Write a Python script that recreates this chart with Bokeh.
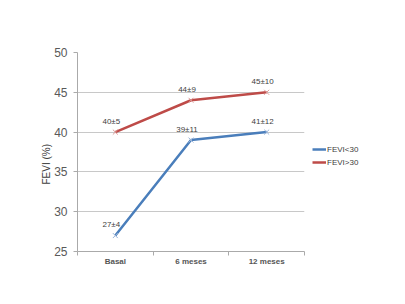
from bokeh.plotting import figure
from bokeh.models import ColumnDataSource, FixedTicker, Legend, LegendItem, Title
from bokeh.core.properties import value
from bokeh.embed import file_html
from bokeh.resources import INLINE

categories = ["Basal", "6 meses", "12 meses"]
fevi_lt30 = [27, 39, 40]
fevi_gt30 = [40, 44, 45]
labels_lt30 = ["27±4", "39±11", "41±12"]
labels_gt30 = ["40±5", "44±9", "45±10"]
y_ticks = [25, 30, 35, 40, 45, 50]

xs = [i + 0.5 for i in range(len(categories))]

p = figure(frame_width=227, frame_height=199, output_backend="svg", toolbar_location=None,
           x_range=(0, 3), y_range=(25, 50),
           min_border_left=77, min_border_right=30, min_border_top=52, min_border_bottom=45)
p.outline_line_color = None
p.background_fill_color = "white"
p.border_fill_color = "white"

font = "Liberation Sans"
txt_col = "#404040"

p.xaxis.ticker = FixedTicker(ticks=xs, minor_ticks=[0, 1, 2, 3])
p.xaxis.major_label_overrides = {x: c for x, c in zip(xs, categories)}
p.xaxis.major_tick_out = 0
p.xaxis.major_tick_in = 0
p.xaxis.minor_tick_out = 4
p.xaxis.minor_tick_in = 0
p.xaxis.minor_tick_line_color = "#aaaaaa"
p.xaxis.axis_line_color = "#aaaaaa"
p.xaxis.major_label_text_font = font
p.xaxis.major_label_text_font_size = "8px"
p.xaxis.major_label_text_font_style = "bold"
p.xaxis.major_label_text_color = "#555555"
p.xaxis.major_label_standoff = 1

p.yaxis.ticker = FixedTicker(ticks=y_ticks)
p.yaxis.minor_tick_line_color = None
p.yaxis.major_tick_out = 4
p.yaxis.major_tick_in = 0
p.yaxis.major_tick_line_color = "#aaaaaa"
p.yaxis.axis_line_color = "#aaaaaa"
p.yaxis.major_label_text_font = font
p.yaxis.major_label_text_font_size = "12px"
p.yaxis.major_label_text_color = "#595959"
p.yaxis.major_label_standoff = 6

ylabel = Title(text="FEVI (%)", align="left", offset=67, standoff=0,
               text_font=font, text_font_size="10px", text_font_style="normal",
               text_color=txt_col)
p.add_layout(ylabel, "left")

p.xgrid.grid_line_color = None
p.ygrid.grid_line_color = "#c8c8c8"
p.ygrid.ticker = FixedTicker(ticks=y_ticks)

blue = "#4a7ebb"
red = "#be4b48"

src_b = ColumnDataSource(dict(x=xs, y=fevi_lt30, t=labels_lt30))
src_r = ColumnDataSource(dict(x=xs, y=fevi_gt30, t=labels_gt30))

lb = p.line("x", "y", source=src_b, line_color=blue, line_width=2.5)
mb = p.scatter("x", "y", source=src_b, marker="x", size=7, line_color="#9ab4d8", line_width=1)
lr = p.line("x", "y", source=src_r, line_color=red, line_width=2.5)
mr = p.scatter("x", "y", source=src_r, marker="x", size=7, line_color="#dc9a98", line_width=1)

for s in (src_b, src_r):
    p.text("x", "y", text="t", source=s, text_font=value(font), text_font_size="8px",
           text_color=txt_col, text_align="center", text_baseline="middle",
           x_offset=-4, y_offset=-11)

legend = Legend(items=[LegendItem(label="FEVI<30", renderers=[lb]),
                       LegendItem(label="FEVI>30", renderers=[lr])],
                location=(8, 84), orientation="vertical",
                label_text_font=font, label_text_font_size="8px", label_text_color=txt_col,
                glyph_width=14, glyph_height=8, label_standoff=1, spacing=3,
                padding=2, margin=0, border_line_color=None, background_fill_alpha=0,
                label_height=10)
p.add_layout(legend, "right")

open("out.html", "w").write(file_html(p, INLINE))
